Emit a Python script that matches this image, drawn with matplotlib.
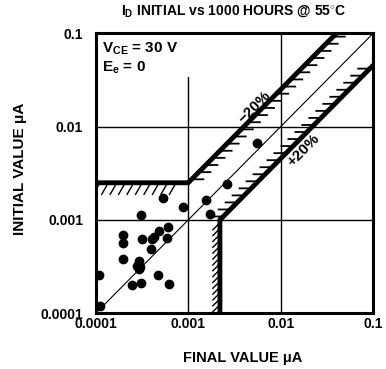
import numpy as np
import matplotlib
matplotlib.use("Agg")
import matplotlib.pyplot as plt
from matplotlib import patheffects as pe
from matplotlib.patches import Rectangle

plt.rcParams['font.family'] = ['Liberation Sans', 'DejaVu Sans']
plt.rcParams['mathtext.fontset'] = 'custom'
plt.rcParams['mathtext.rm'] = 'Liberation Sans:bold'
plt.rcParams['mathtext.it'] = 'Liberation Sans:bold'
plt.rcParams['mathtext.bf'] = 'Liberation Sans:bold'

# measured devices: final value vs initial value (uA)
final_vals = [0.00054, 0.00087, 0.000306, 0.0026, 0.00155, 0.00171, 0.00548,
              0.000197, 0.000198, 0.000314, 0.000403, 0.000427, 0.000487,
              0.000608, 0.000585, 0.000393, 0.000198, 0.000296, 0.000277,
              0.000301, 0.000292, 0.000109, 0.000474, 0.000245, 0.000306,
              0.000614, 0.000112]
initial_vals = [0.00171, 0.00139, 0.00114, 0.00243, 0.00164, 0.00115, 0.00659,
                0.000687, 0.000562, 0.000625, 0.000625, 0.000662, 0.000767,
                0.000835, 0.000637, 0.000492, 0.000382, 0.000366, 0.000321,
                0.00031, 0.000298, 0.000255, 0.000255, 0.000201, 0.00021,
                0.000205, 0.00012]

# limit lines
upper_x = [0.0001, 0.001, 0.04]
upper_y = [0.0025, 0.0025, 0.1]
lower_x = [0.0022, 0.0022, 0.1]
lower_y = [0.0001, 0.001, 0.0455]

ticks = [0.0001, 0.001, 0.01, 0.1]
tick_labels = ['0.0001', '0.001', '0.01', '0.1']

fig = plt.figure(figsize=(3.86, 3.69), dpi=100)
ax = fig.add_axes([0.248, 0.151, 0.719, 0.759])
ax.set_xscale('log')
ax.set_yscale('log')
ax.set_xlim(0.0001, 0.1)
ax.set_ylim(0.0001, 0.1)

ax.grid(True, which='major', color='black', linewidth=1.0)
ax.minorticks_off()
ax.tick_params(length=0, labelsize=10)
ax.tick_params(axis='x', pad=3)
ax.tick_params(axis='y', pad=9)
ax.set_xticks(ticks)
ax.set_xticklabels(tick_labels, fontweight='bold')
ax.set_yticks(ticks)
ax.set_yticklabels(tick_labels, fontweight='bold')
for s in ax.spines.values():
    s.set_linewidth(2.2)

# white area behind the conditions text
ax.add_patch(Rectangle((0.004, 0.845), 0.36, 0.15, transform=ax.transAxes,
                       facecolor='white', edgecolor='none', zorder=2.2))

# 1:1 line
ax.plot([0.0001, 0.1], [0.0001, 0.1], color='black', lw=0.8)

# thick limit lines
ax.plot(upper_x, upper_y, color='black', lw=3.5, solid_joinstyle='miter',
        solid_capstyle='butt', zorder=4)
ax.plot(lower_x, lower_y, color='black', lw=3.5, solid_joinstyle='miter',
        solid_capstyle='butt', zorder=4)

# hatching
ax.plot([upper_x[0], upper_x[1] * 0.82], upper_y[:2], color='black', lw=1.0, zorder=3,
        path_effects=[pe.withTickedStroke(angle=-120, spacing=6, length=1.6)])
ax.plot(upper_x[1:], upper_y[1:], color='black', lw=1.3, zorder=3,
        path_effects=[pe.withTickedStroke(angle=-45, spacing=7, length=1.2)])
ax.plot(lower_x[:2], lower_y[:2], color='black', lw=1.0, zorder=3,
        path_effects=[pe.withTickedStroke(angle=135, spacing=4, length=1.8)])
ax.plot(lower_x[1:], lower_y[1:], color='black', lw=1.3, zorder=3,
        path_effects=[pe.withTickedStroke(angle=135, spacing=7, length=1.2)])

ax.plot(final_vals, initial_vals, 'o', color='black', ms=6, zorder=5)

ax.text(0.000117, 0.083, 'V$_{CE}$ = 30 V\nE$_e$ = 0', fontsize=11,
        fontweight='bold', va='top', ha='left', linespacing=1.2, zorder=6)

ax.text(0.0052, 0.0163, '\u221220%', rotation=45, fontsize=11,
        fontweight='bold', ha='center', va='center', zorder=6)
ax.text(0.0177, 0.0056, '+20%', rotation=45, fontsize=11,
        fontweight='bold', ha='center', va='center', zorder=6)

fig.text(0.628, 0.030, 'FINAL VALUE \u03bcA', fontsize=10.5, fontweight='bold',
         ha='center', va='center')
fig.text(0.052, 0.543, 'INITIAL VALUE \u03bcA', fontsize=11, fontweight='bold',
         ha='center', va='center', rotation=90)
fig.text(0.606, 0.967, 'I$_{D}$ INITIAL vs 1000 HOURS @ 55$^{\\circ}$C',
         fontsize=10, fontweight='bold', ha='center', va='center')

fig.savefig('out.png', dpi=100)
